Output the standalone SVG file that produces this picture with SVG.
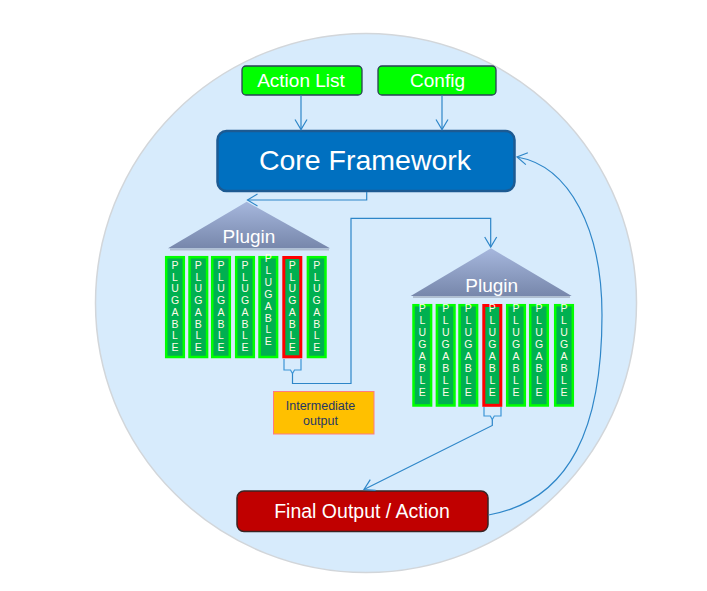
<svg xmlns="http://www.w3.org/2000/svg" width="707" height="591" viewBox="0 0 707 591">
<defs>
<linearGradient id="tri" x1="0" y1="0" x2="0" y2="1">
<stop offset="0" stop-color="#a6b7dd"/>
<stop offset="1" stop-color="#7787ab"/>
</linearGradient>
<marker id="ah" markerUnits="userSpaceOnUse" markerWidth="14" markerHeight="14" viewBox="-12 -7 14 14" refX="0" refY="0" orient="auto">
<path d="M-10,-6 L0,0 L-10,6" fill="none" stroke="#2e86c8" stroke-width="1.2"/>
</marker>
<style>
.t{font-family:"Liberation Sans",Arial,sans-serif;}
.w{fill:#ffffff;}
.plug{fill:#00b050;stroke:#00ff00;stroke-width:2.5;}
.red{fill:#00b050;stroke:#ff0000;stroke-width:3;}
.let{font-family:"Liberation Sans",Arial,sans-serif;font-size:10.5px;fill:#fffbe8;text-anchor:middle;}
.con{fill:none;stroke:#2e86c8;stroke-width:1.2;}
.br{fill:none;stroke:#3d95d6;stroke-width:1.2;}
</style>
</defs>
<ellipse id="bg" cx="366" cy="303" rx="270.5" ry="269.5" fill="#d7ebfc" stroke="#d2d6da" stroke-width="1.5"/>

<g id="action-list">
<rect x="242" y="66" width="120" height="29" rx="4" fill="#00ff00" stroke="#2a3f55" stroke-width="1.3"/>
<text class="t w" x="301" y="87" font-size="19" text-anchor="middle">Action List</text>
</g>
<g id="config">
<rect x="378" y="66" width="118" height="29" rx="4" fill="#00ff00" stroke="#2a3f55" stroke-width="1.3"/>
<text class="t w" x="437.5" y="87" font-size="19" text-anchor="middle">Config</text>
</g>
<g id="core-framework">
<rect x="217.5" y="131" width="297" height="60" rx="9" fill="#0070c0" stroke="#1c5a92" stroke-width="2.5"/>
<text class="t w" x="365" y="170" font-size="28.5" text-anchor="middle">Core Framework</text>
</g>

<g id="plugin-left">
<line x1="170" y1="249.5" x2="329" y2="249.5" stroke="#8a94a8" stroke-width="2" opacity="0.5"/>
<polygon points="246.7,201.7 330,248.3 168,248.3" fill="url(#tri)"/>
<text class="t w" x="249" y="243" font-size="19" text-anchor="middle">Plugin</text>
<rect class="plug" x="166.2" y="257.2" width="17.6" height="99.8"/>
<rect class="plug" x="189.5" y="257.2" width="17.6" height="99.8"/>
<rect class="plug" x="212.2" y="257.2" width="17.6" height="99.8"/>
<rect class="plug" x="236.2" y="257.2" width="17.6" height="99.8"/>
<rect class="plug" x="259.5" y="257.2" width="17.6" height="99.8"/>
<rect class="red" x="283.8" y="257.5" width="17" height="99.3"/>
<rect class="plug" x="307.9" y="257.2" width="17.6" height="99.8"/>
<text class="let" y="269"><tspan x="175">P</tspan><tspan x="175" dy="11.7">L</tspan><tspan x="175" dy="11.7">U</tspan><tspan x="175" dy="11.7">G</tspan><tspan x="175" dy="11.7">A</tspan><tspan x="175" dy="11.7">B</tspan><tspan x="175" dy="11.7">L</tspan><tspan x="175" dy="11.7">E</tspan></text>
<text class="let" y="269"><tspan x="198.3">P</tspan><tspan x="198.3" dy="11.7">L</tspan><tspan x="198.3" dy="11.7">U</tspan><tspan x="198.3" dy="11.7">G</tspan><tspan x="198.3" dy="11.7">A</tspan><tspan x="198.3" dy="11.7">B</tspan><tspan x="198.3" dy="11.7">L</tspan><tspan x="198.3" dy="11.7">E</tspan></text>
<text class="let" y="269"><tspan x="221">P</tspan><tspan x="221" dy="11.7">L</tspan><tspan x="221" dy="11.7">U</tspan><tspan x="221" dy="11.7">G</tspan><tspan x="221" dy="11.7">A</tspan><tspan x="221" dy="11.7">B</tspan><tspan x="221" dy="11.7">L</tspan><tspan x="221" dy="11.7">E</tspan></text>
<text class="let" y="269"><tspan x="245">P</tspan><tspan x="245" dy="11.7">L</tspan><tspan x="245" dy="11.7">U</tspan><tspan x="245" dy="11.7">G</tspan><tspan x="245" dy="11.7">A</tspan><tspan x="245" dy="11.7">B</tspan><tspan x="245" dy="11.7">L</tspan><tspan x="245" dy="11.7">E</tspan></text>
<text class="let" y="262"><tspan x="268.3">P</tspan><tspan x="268.3" dy="11.9">L</tspan><tspan x="268.3" dy="11.9">U</tspan><tspan x="268.3" dy="11.9">G</tspan><tspan x="268.3" dy="11.9">A</tspan><tspan x="268.3" dy="11.9">B</tspan><tspan x="268.3" dy="11.9">L</tspan><tspan x="268.3" dy="11.9">E</tspan></text>
<text class="let" y="269"><tspan x="292.3">P</tspan><tspan x="292.3" dy="11.7">L</tspan><tspan x="292.3" dy="11.7">U</tspan><tspan x="292.3" dy="11.7">G</tspan><tspan x="292.3" dy="11.7">A</tspan><tspan x="292.3" dy="11.7">B</tspan><tspan x="292.3" dy="11.7">L</tspan><tspan x="292.3" dy="11.7">E</tspan></text>
<text class="let" y="269"><tspan x="316.7">P</tspan><tspan x="316.7" dy="11.7">L</tspan><tspan x="316.7" dy="11.7">U</tspan><tspan x="316.7" dy="11.7">G</tspan><tspan x="316.7" dy="11.7">A</tspan><tspan x="316.7" dy="11.7">B</tspan><tspan x="316.7" dy="11.7">L</tspan><tspan x="316.7" dy="11.7">E</tspan></text>
</g>

<g id="plugin-right">
<line x1="413" y1="297" x2="570" y2="297" stroke="#8a94a8" stroke-width="2" opacity="0.5"/>
<polygon points="491,248.3 571.7,296 410.7,296" fill="url(#tri)"/>
<text class="t w" x="491.7" y="291.5" font-size="19" text-anchor="middle">Plugin</text>
<rect class="plug" x="413.5" y="305.2" width="17.6" height="100.3"/>
<rect class="plug" x="436.9" y="305.2" width="17.6" height="100.3"/>
<rect class="plug" x="459.5" y="305.2" width="17.6" height="100.3"/>
<rect class="red" x="483.8" y="305.5" width="17" height="99.8"/>
<rect class="plug" x="507.2" y="305.2" width="17.6" height="100.3"/>
<rect class="plug" x="530.2" y="305.2" width="17.6" height="100.3"/>
<rect class="plug" x="555.2" y="305.2" width="17.6" height="100.3"/>
<text class="let" y="312.3"><tspan x="422.3">P</tspan><tspan x="422.3" dy="11.9">L</tspan><tspan x="422.3" dy="11.9">U</tspan><tspan x="422.3" dy="11.9">G</tspan><tspan x="422.3" dy="11.9">A</tspan><tspan x="422.3" dy="11.9">B</tspan><tspan x="422.3" dy="11.9">L</tspan><tspan x="422.3" dy="11.9">E</tspan></text>
<text class="let" y="312.3"><tspan x="445.7">P</tspan><tspan x="445.7" dy="11.9">L</tspan><tspan x="445.7" dy="11.9">U</tspan><tspan x="445.7" dy="11.9">G</tspan><tspan x="445.7" dy="11.9">A</tspan><tspan x="445.7" dy="11.9">B</tspan><tspan x="445.7" dy="11.9">L</tspan><tspan x="445.7" dy="11.9">E</tspan></text>
<text class="let" y="312.3"><tspan x="468.3">P</tspan><tspan x="468.3" dy="11.9">L</tspan><tspan x="468.3" dy="11.9">U</tspan><tspan x="468.3" dy="11.9">G</tspan><tspan x="468.3" dy="11.9">A</tspan><tspan x="468.3" dy="11.9">B</tspan><tspan x="468.3" dy="11.9">L</tspan><tspan x="468.3" dy="11.9">E</tspan></text>
<text class="let" y="312.3"><tspan x="492.3">P</tspan><tspan x="492.3" dy="11.9">L</tspan><tspan x="492.3" dy="11.9">U</tspan><tspan x="492.3" dy="11.9">G</tspan><tspan x="492.3" dy="11.9">A</tspan><tspan x="492.3" dy="11.9">B</tspan><tspan x="492.3" dy="11.9">L</tspan><tspan x="492.3" dy="11.9">E</tspan></text>
<text class="let" y="312.3"><tspan x="516">P</tspan><tspan x="516" dy="11.9">L</tspan><tspan x="516" dy="11.9">U</tspan><tspan x="516" dy="11.9">G</tspan><tspan x="516" dy="11.9">A</tspan><tspan x="516" dy="11.9">B</tspan><tspan x="516" dy="11.9">L</tspan><tspan x="516" dy="11.9">E</tspan></text>
<text class="let" y="312.3"><tspan x="539">P</tspan><tspan x="539" dy="11.9">L</tspan><tspan x="539" dy="11.9">U</tspan><tspan x="539" dy="11.9">G</tspan><tspan x="539" dy="11.9">A</tspan><tspan x="539" dy="11.9">B</tspan><tspan x="539" dy="11.9">L</tspan><tspan x="539" dy="11.9">E</tspan></text>
<text class="let" y="312.3"><tspan x="564">P</tspan><tspan x="564" dy="11.9">L</tspan><tspan x="564" dy="11.9">U</tspan><tspan x="564" dy="11.9">G</tspan><tspan x="564" dy="11.9">A</tspan><tspan x="564" dy="11.9">B</tspan><tspan x="564" dy="11.9">L</tspan><tspan x="564" dy="11.9">E</tspan></text>
</g>

<g id="intermediate-output">
<rect x="273.5" y="391.5" width="100.5" height="42.5" fill="#ffc000" stroke="#ff7c80" stroke-width="1"/>
<text class="t" x="320.5" y="410" font-size="12.5" fill="#1f3864" text-anchor="middle">Intermediate</text>
<text class="t" x="320.5" y="425" font-size="12.5" fill="#1f3864" text-anchor="middle">output</text>
</g>

<g id="final-output">
<rect x="237" y="491" width="251" height="40.5" rx="7" fill="#c00000" stroke="#3a2323" stroke-width="1.5"/>
<text class="t w" x="362" y="517.5" font-size="19.5" text-anchor="middle">Final Output / Action</text>
</g>

<g id="connectors">
<path class="con" d="M301,95.5 V129.5" marker-end="url(#ah)"/>
<path class="con" d="M442,95.5 V129.5" marker-end="url(#ah)"/>
<path class="con" d="M366.7,192 V200 H247.5" marker-end="url(#ah)"/>
<path class="br" d="M284,359 V370 H290.5 L292.5,373.5 L294.5,370 H301 V359"/>
<path class="con" d="M292.5,373.5 V383.5 H351 V218.3 H490.7 V247" marker-end="url(#ah)"/>
<path class="br" d="M484,407 V416 H490.3 L492.3,419.5 L494.3,416 H501 V407"/>
<path class="con" d="M492.3,419.5 V425.5 L364,489.5" marker-end="url(#ah)"/>
<path class="con" d="M488.5,515 C572,500 602,425 602,315 C602,230 570,166 517,157" marker-end="url(#ah)"/>
</g>
</svg>
